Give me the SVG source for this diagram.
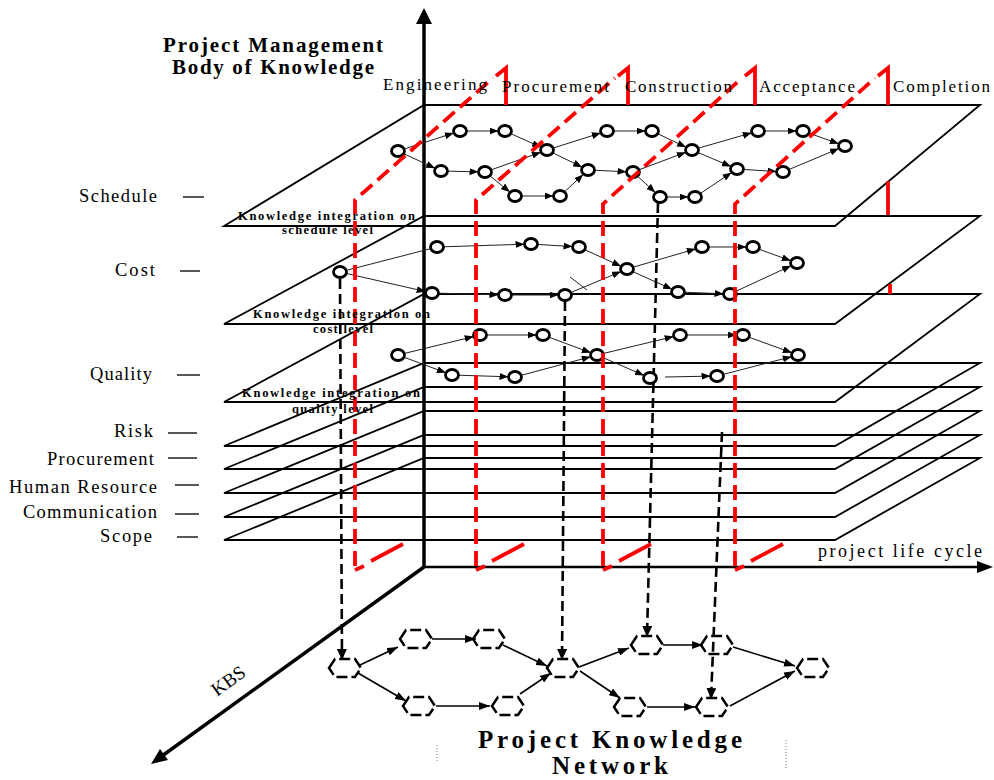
<svg xmlns="http://www.w3.org/2000/svg" width="994" height="780" viewBox="0 0 994 780">
<style>
.pl{fill:none;stroke:#000;stroke-width:1.8}
.ax{fill:none;stroke:#000;stroke-width:3.5}
.e{fill:none;stroke:#222;stroke-width:1}
.ne{fill:none;stroke:#000;stroke-width:1.6}
.pj{fill:none;stroke:#000;stroke-width:2.6;stroke-dasharray:10 5}
.n{fill:#fff;stroke:#000;stroke-width:2.8}
.nn{fill:none;stroke:#000;stroke-width:2.5;stroke-dasharray:11 4}
.rd{fill:none;stroke:#f00;stroke-width:3.8;stroke-dasharray:15 7}
.rs{fill:none;stroke:#f00;stroke-width:3.8}
.t{font-family:"Liberation Serif","Times New Roman",serif;fill:#000}
.lb{font-size:18.5px}
.st{font-size:17px}
.ki{font-size:12.5px;font-weight:bold}
.dl{stroke:#222;stroke-width:1.3}
</style>
<defs>
<marker id="a" viewBox="0 0 16 7" refX="15.5" refY="3.5" markerWidth="16" markerHeight="7" markerUnits="userSpaceOnUse" orient="auto"><path d="M0,0 L9,3.5 L0,7 z" fill="#000"/></marker>
<marker id="b" viewBox="0 0 11 8" refX="11" refY="4" markerWidth="11" markerHeight="8" markerUnits="userSpaceOnUse" orient="auto"><path d="M0,0 L11,4 L0,8 z" fill="#000"/></marker>
<marker id="pa" viewBox="0 0 11 10" refX="11" refY="5" markerWidth="11" markerHeight="10" markerUnits="userSpaceOnUse" orient="auto"><path d="M0,0 L11,5 L0,10 z" fill="#000"/></marker>
</defs>
<rect width="994" height="780" fill="#fff"/>

<!-- planes -->
<g id="planes">
<path class="pl" d="M424,105 L980,105 L835,226 L224,226 Z"/>
<path class="pl" d="M424,216 L980,216 L835,324 L224,324 Z"/>
<path class="pl" d="M424,294 L980,294 L835,402 L224,402 Z"/>
<path class="pl" d="M424,363 L980,363 L835,446 L224,446 Z"/>
<path class="pl" d="M424,387 L980,387 L835,469 L224,469 Z"/>
<path class="pl" d="M424,411 L980,411 L835,493 L224,493 Z"/>
<path class="pl" d="M424,435 L980,435 L835,517 L224,517 Z"/>
<path class="pl" d="M424,458 L980,458 L835,540 L224,540 Z"/>
</g>

<!-- axes -->
<g id="axes">
<path class="ax" d="M424,567 L424,22"/>
<path d="M424,8 L432,24 L416,24 Z" fill="#000"/>
<path d="M424,567 L978,567" fill="none" stroke="#000" stroke-width="2.6"/>
<path d="M993,567 L977,561 L977,573 Z" fill="#000"/>
<path class="ax" d="M424,567 L162,756"/>
<path d="M151,764 L160,749 L168,760 Z" fill="#000"/>
</g>

<!-- connectors -->
<g id="connectors">
<!-- schedule -->
<path class="e" marker-end="url(#a)" d="M398,151 L460,131"/>
<path class="e" marker-end="url(#a)" d="M460,131 L505,131"/>
<path class="e" marker-end="url(#a)" d="M505,131 L547,150"/>
<path class="e" marker-end="url(#a)" d="M398,151 L441,171"/>
<path class="e" marker-end="url(#a)" d="M441,171 L485,172"/>
<path class="e" marker-end="url(#a)" d="M485,172 L547,150"/>
<path class="e" marker-end="url(#a)" d="M485,172 L515,196"/>
<path class="e" marker-end="url(#a)" d="M515,196 L560,196"/>
<path class="e" marker-end="url(#a)" d="M560,196 L588,170"/>
<path class="e" marker-end="url(#a)" d="M547,150 L588,170"/>
<path class="e" marker-end="url(#a)" d="M547,150 L607,131"/>
<path class="e" marker-end="url(#a)" d="M607,131 L652,131"/>
<path class="e" marker-end="url(#a)" d="M588,170 L633,172"/>
<path class="e" marker-end="url(#a)" d="M652,131 L692,150"/>
<path class="e" marker-end="url(#a)" d="M633,172 L692,150"/>
<path class="e" marker-end="url(#a)" d="M633,172 L660,197"/>
<path class="e" marker-end="url(#a)" d="M660,197 L695,197"/>
<path class="e" marker-end="url(#a)" d="M692,150 L758,131"/>
<path class="e" marker-end="url(#a)" d="M758,131 L803,131"/>
<path class="e" marker-end="url(#a)" d="M803,131 L845,146"/>
<path class="e" marker-end="url(#a)" d="M692,150 L737,169"/>
<path class="e" marker-end="url(#a)" d="M695,197 L737,169"/>
<path class="e" marker-end="url(#a)" d="M737,169 L783,172"/>
<path class="e" marker-end="url(#a)" d="M783,172 L845,146"/>
<!-- cost -->
<path class="e" d="M340,272 L437,247"/>
<path class="e" marker-end="url(#a)" d="M340,272 L432,293"/>
<path class="e" marker-end="url(#a)" d="M437,247 L531,244"/>
<path class="e" marker-end="url(#a)" d="M531,244 L579,247"/>
<path class="e" marker-end="url(#a)" d="M579,247 L627,269"/>
<path class="e" marker-end="url(#a)" d="M432,293 L505,295"/>
<path class="e" marker-end="url(#a)" d="M505,295 L565,295"/>
<path class="e" marker-end="url(#a)" d="M565,295 L627,269"/>
<path class="e" d="M570,277 L587,290"/>
<path class="e" marker-end="url(#a)" d="M627,269 L702,247"/>
<path class="e" marker-end="url(#a)" d="M627,269 L678,292"/>
<path class="e" marker-end="url(#a)" d="M702,247 L753,247"/>
<path class="e" marker-end="url(#a)" d="M753,247 L797,263"/>
<path class="e" marker-end="url(#a)" d="M678,292 L730,294"/>
<path class="e" marker-end="url(#a)" d="M730,294 L797,263"/>
<!-- quality -->
<path class="e" marker-end="url(#a)" d="M398,355 L480,335"/>
<path class="e" marker-end="url(#a)" d="M398,355 L452,375"/>
<path class="e" marker-end="url(#a)" d="M480,335 L543,335"/>
<path class="e" marker-end="url(#a)" d="M543,335 L597,355"/>
<path class="e" marker-end="url(#a)" d="M452,375 L515,377"/>
<path class="e" marker-end="url(#a)" d="M515,377 L597,355"/>
<path class="e" marker-end="url(#a)" d="M597,355 L680,335"/>
<path class="e" marker-end="url(#a)" d="M597,355 L650,378"/>
<path class="e" marker-end="url(#a)" d="M680,335 L743,335"/>
<path class="e" marker-end="url(#a)" d="M743,335 L798,355"/>
<path class="e" marker-end="url(#a)" d="M665,377 L717,376"/>
<path class="e" marker-end="url(#a)" d="M717,376 L798,355"/>
<!-- projections -->
<path class="pj" marker-end="url(#pa)" d="M340,279 L342,660"/>
<path class="pj" marker-end="url(#pa)" d="M565,301 L562,660"/>
<path class="pj" marker-end="url(#pa)" d="M658,203 L647,637"/>
<path class="pj" marker-end="url(#pa)" d="M722,432 L711,699"/>
<!-- network -->
<path class="ne" marker-end="url(#b)" d="M360,665 L398,647"/>
<path class="ne" marker-end="url(#b)" d="M358,673 L406,701"/>
<path class="ne" marker-end="url(#b)" d="M432,639 L476,639"/>
<path class="ne" marker-end="url(#b)" d="M503,645 L547,666"/>
<path class="ne" marker-end="url(#b)" d="M436,706 L490,706"/>
<path class="ne" marker-end="url(#b)" d="M520,694 L551,673"/>
<path class="ne" marker-end="url(#b)" d="M579,667 L629,648"/>
<path class="ne" marker-end="url(#b)" d="M580,671 L620,698"/>
<path class="ne" marker-end="url(#b)" d="M663,645 L703,645"/>
<path class="ne" marker-end="url(#b)" d="M733,647 L795,666"/>
<path class="ne" marker-end="url(#b)" d="M647,707 L695,707"/>
<path class="ne" marker-end="url(#b)" d="M730,706 L795,671"/>
</g>

<!-- schedule nodes -->
<g id="s1"><ellipse class="n" cx="398" cy="151" rx="6.5" ry="5.5"/></g>
<g id="s2"><ellipse class="n" cx="460" cy="131" rx="6.5" ry="5.5"/></g>
<g id="s3"><ellipse class="n" cx="505" cy="131" rx="6.5" ry="5.5"/></g>
<g id="s4"><ellipse class="n" cx="547" cy="150" rx="6.5" ry="5.5"/></g>
<g id="s5"><ellipse class="n" cx="441" cy="171" rx="6.5" ry="5.5"/></g>
<g id="s6"><ellipse class="n" cx="485" cy="172" rx="6.5" ry="5.5"/></g>
<g id="s7"><ellipse class="n" cx="515" cy="196" rx="6.5" ry="5.5"/></g>
<g id="s8"><ellipse class="n" cx="560" cy="196" rx="6.5" ry="5.5"/></g>
<g id="s9"><ellipse class="n" cx="588" cy="170" rx="6.5" ry="5.5"/></g>
<g id="s10"><ellipse class="n" cx="607" cy="131" rx="6.5" ry="5.5"/></g>
<g id="s11"><ellipse class="n" cx="652" cy="131" rx="6.5" ry="5.5"/></g>
<g id="s12"><ellipse class="n" cx="633" cy="172" rx="6.5" ry="5.5"/></g>
<g id="s13"><ellipse class="n" cx="692" cy="150" rx="6.5" ry="5.5"/></g>
<g id="s14"><ellipse class="n" cx="660" cy="197" rx="6.5" ry="5.5"/></g>
<g id="s15"><ellipse class="n" cx="695" cy="197" rx="6.5" ry="5.5"/></g>
<g id="s16"><ellipse class="n" cx="737" cy="169" rx="6.5" ry="5.5"/></g>
<g id="s17"><ellipse class="n" cx="783" cy="172" rx="6.5" ry="5.5"/></g>
<g id="s18"><ellipse class="n" cx="758" cy="131" rx="6.5" ry="5.5"/></g>
<g id="s19"><ellipse class="n" cx="803" cy="131" rx="6.5" ry="5.5"/></g>
<g id="s20"><ellipse class="n" cx="845" cy="146" rx="6.5" ry="5.5"/></g>
<!-- cost nodes -->
<g id="c1"><ellipse class="n" cx="340" cy="272" rx="6.5" ry="5.5"/></g>
<g id="c2"><ellipse class="n" cx="437" cy="247" rx="6.5" ry="5.5"/></g>
<g id="c3"><ellipse class="n" cx="432" cy="293" rx="6.5" ry="5.5"/></g>
<g id="c4"><ellipse class="n" cx="531" cy="244" rx="6.5" ry="5.5"/></g>
<g id="c5"><ellipse class="n" cx="579" cy="247" rx="6.5" ry="5.5"/></g>
<g id="c6"><ellipse class="n" cx="505" cy="295" rx="6.5" ry="5.5"/></g>
<g id="c7"><ellipse class="n" cx="565" cy="295" rx="6.5" ry="5.5"/></g>
<g id="c8"><ellipse class="n" cx="627" cy="269" rx="6.5" ry="5.5"/></g>
<g id="c9"><ellipse class="n" cx="702" cy="247" rx="6.5" ry="5.5"/></g>
<g id="c10"><ellipse class="n" cx="753" cy="247" rx="6.5" ry="5.5"/></g>
<g id="c11"><ellipse class="n" cx="678" cy="292" rx="6.5" ry="5.5"/></g>
<g id="c12"><ellipse class="n" cx="730" cy="294" rx="6.5" ry="5.5"/></g>
<g id="c13"><ellipse class="n" cx="797" cy="263" rx="6.5" ry="5.5"/></g>
<!-- quality nodes -->
<g id="q1"><ellipse class="n" cx="398" cy="355" rx="6.5" ry="5.5"/></g>
<g id="q2"><ellipse class="n" cx="480" cy="335" rx="6.5" ry="5.5"/></g>
<g id="q3"><ellipse class="n" cx="543" cy="335" rx="6.5" ry="5.5"/></g>
<g id="q4"><ellipse class="n" cx="597" cy="355" rx="6.5" ry="5.5"/></g>
<g id="q5"><ellipse class="n" cx="452" cy="375" rx="6.5" ry="5.5"/></g>
<g id="q6"><ellipse class="n" cx="515" cy="377" rx="6.5" ry="5.5"/></g>
<g id="q7"><ellipse class="n" cx="680" cy="335" rx="6.5" ry="5.5"/></g>
<g id="q8"><ellipse class="n" cx="743" cy="335" rx="6.5" ry="5.5"/></g>
<g id="q9"><ellipse class="n" cx="798" cy="355" rx="6.5" ry="5.5"/></g>
<g id="q10"><ellipse class="n" cx="650" cy="378" rx="6.5" ry="5.5"/></g>
<g id="q11"><ellipse class="n" cx="717" cy="376" rx="6.5" ry="5.5"/></g>
<!-- network nodes -->
<g id="n1"><polygon class="nn" points="329,668 335,659 355,659 361,668 355,677 335,677"/></g>
<g id="n2"><polygon class="nn" points="400,639 406,630 426,630 432,639 426,648 406,648"/></g>
<g id="n3"><polygon class="nn" points="473,639 479,630 499,630 505,639 499,648 479,648"/></g>
<g id="n4"><polygon class="nn" points="547,668 553,659 573,659 579,668 573,677 553,677"/></g>
<g id="n5"><polygon class="nn" points="403,706 409,697 429,697 435,706 429,715 409,715"/></g>
<g id="n6"><polygon class="nn" points="492,706 498,697 518,697 524,706 518,715 498,715"/></g>
<g id="n7"><polygon class="nn" points="631,645 637,636 657,636 663,645 657,654 637,654"/></g>
<g id="n8"><polygon class="nn" points="701,645 707,636 727,636 733,645 727,654 707,654"/></g>
<g id="n9"><polygon class="nn" points="614,707 620,698 640,698 646,707 640,716 620,716"/></g>
<g id="n10"><polygon class="nn" points="696,707 702,698 722,698 728,707 722,716 702,716"/></g>
<g id="n11"><polygon class="nn" points="797,668 803,659 823,659 829,668 823,677 803,677"/></g>

<!-- red phase partitions -->
<g id="partitions">
<path class="rd" d="M355,566 L355,200 L493,78"/>
<path class="rs" d="M496,76 L506,68 L506,105"/>
<path class="rs" d="M355,570 L364,566 M371,561 L403,544"/>
<path class="rd" d="M476,566 L476,200 L615,78"/>
<path class="rs" d="M618,76 L628,68 L628,105"/>
<path class="rs" d="M476,570 L485,566 M492,561 L524,544"/>
<path class="rd" d="M603,566 L603,204 L742,78"/>
<path class="rs" d="M745,76 L755,68 L755,105"/>
<path class="rs" d="M603,570 L612,566 M619,561 L651,544"/>
<path class="rd" d="M735,566 L735,204 L875,78"/>
<path class="rs" d="M878,76 L888,68 L888,105 M888,181 L888,215 M890,284 L890,294"/>
<path class="rs" d="M735,570 L744,566 M751,561 L783,544"/>
</g>

<!-- texts -->
<g id="labels">
<text class="t" x="163" y="52" font-size="21" font-weight="bold" textLength="220" lengthAdjust="spacing">Project Management</text>
<text class="t" x="172" y="74" font-size="21" font-weight="bold" textLength="202" lengthAdjust="spacing">Body of Knowledge</text>
<text class="t st" x="383" y="90" textLength="104" lengthAdjust="spacing">Engineering</text>
<text class="t st" x="502" y="92" textLength="107" lengthAdjust="spacing">Procurement</text>
<text class="t st" x="625" y="92" textLength="107" lengthAdjust="spacing">Construction</text>
<text class="t st" x="759" y="92" textLength="96" lengthAdjust="spacing">Acceptance</text>
<text class="t st" x="893" y="92" textLength="97" lengthAdjust="spacing">Completion</text>

<text class="t lb" x="79" y="202" textLength="78" lengthAdjust="spacing">Schedule</text>
<text class="t lb" x="115" y="276" textLength="40" lengthAdjust="spacing">Cost</text>
<text class="t lb" x="90" y="380" textLength="62" lengthAdjust="spacing">Quality</text>
<text class="t lb" x="114" y="437" textLength="39" lengthAdjust="spacing">Risk</text>
<text class="t lb" x="47" y="465" textLength="107" lengthAdjust="spacing">Procurement</text>
<text class="t lb" x="9" y="493" textLength="148" lengthAdjust="spacing">Human Resource</text>
<text class="t lb" x="23" y="518" textLength="134" lengthAdjust="spacing">Communication</text>
<text class="t lb" x="100" y="542" textLength="52" lengthAdjust="spacing">Scope</text>
<path class="dl" d="M183,197 H204 M180,271 H200 M177,375 H200 M168,433 H197 M168,458 H197 M175,485 H199 M175,514 H199 M177,537 H198"/>

<text class="t ki" x="238" y="220" textLength="177" lengthAdjust="spacing">Knowledge integration on</text>
<text class="t ki" x="282" y="234" textLength="91" lengthAdjust="spacing">schedule level</text>
<text class="t ki" x="253" y="318" textLength="177" lengthAdjust="spacing">Knowledge integration on</text>
<text class="t ki" x="313" y="333" textLength="60" lengthAdjust="spacing">cost level</text>
<text class="t ki" x="242" y="397" textLength="178" lengthAdjust="spacing">Knowledge integration on</text>
<text class="t ki" x="292" y="413" textLength="81" lengthAdjust="spacing">quality level</text>

<text class="t" x="818" y="557" font-size="18" textLength="164" lengthAdjust="spacing">project life cycle</text>
<text class="t" font-size="19" text-anchor="middle" transform="translate(232,686) rotate(-36)">KBS</text>
<text class="t" x="478" y="748" font-size="25" font-weight="bold" textLength="264" lengthAdjust="spacing">Project Knowledge</text>
<text class="t" x="552" y="774" font-size="25" font-weight="bold" textLength="116" lengthAdjust="spacing">Network</text>
<path d="M437,745 V763 M786,740 V768" stroke="#777" stroke-width="1" stroke-dasharray="1 2"/>
</g>
</svg>
